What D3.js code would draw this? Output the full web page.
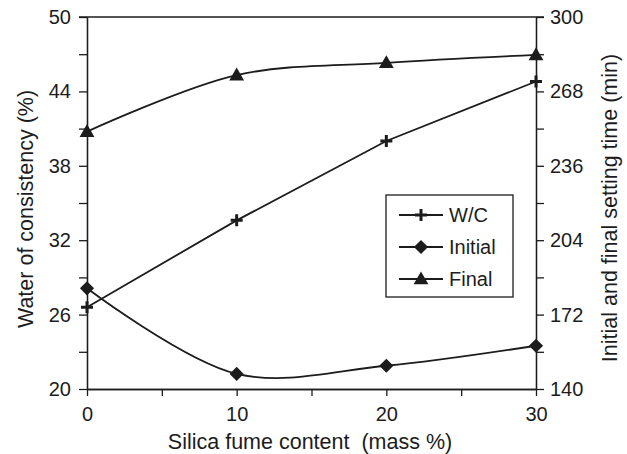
<!DOCTYPE html>
<html>
<head>
<meta charset="utf-8">
<script src="https://cdn.jsdelivr.net/npm/d3@7"></script>
<style>
  html, body { margin: 0; padding: 0; background: #fff; }
  svg { display: block; font-family: "Liberation Sans", Arial, sans-serif; }
</style>
</head>
<body>
<svg id="chart" width="627" height="454"></svg>
<script>
// Silica fume content (mass %)
const silicaFume = [0, 10, 20, 30];
// Water of consistency (%), left axis
const waterConsistency = [26.6, 33.6, 40.0, 44.8];
// Setting times (min), right axis
const initialSetting = [183.3, 146.5, 150.0, 158.6];
const finalSetting = [250.7, 275.0, 280.3, 283.7];

const xTicks = [0, 10, 20, 30];
const xMinorTicks = [5, 15, 25];
const leftTicks = [20, 26, 32, 38, 44, 50];
const leftMinorTicks = [23, 29, 35, 41, 47];
const rightTicks = [140, 172, 204, 236, 268, 300];
const rightMinorTicks = [156, 188, 220, 252, 284];

const ink = "#1c1c1c";
const tickFont = "20px";
const titleFont = "21.5px";
const svg = d3.select("#chart");
const m = { left: 87, right: 536, top: 17, bottom: 389 };

const x = d3.scaleLinear().domain([0, 30]).range([m.left, m.right]);
const yL = d3.scaleLinear().domain([20, 50]).range([m.bottom, m.top]);
const yR = d3.scaleLinear().domain([140, 300]).range([m.bottom, m.top]);

// Axes
function styleAxis(g) {
  g.selectAll("path.domain").attr("stroke", ink).attr("stroke-width", 1.3);
  g.selectAll(".tick line").attr("stroke", ink).attr("stroke-width", 1.3);
  g.selectAll(".tick text").attr("fill", ink).style("font-size", tickFont)
    .style("font-family", "'Liberation Sans', Arial, sans-serif");
}

const xAxis = svg.append("g").attr("transform", `translate(0,${m.bottom})`)
  .call(d3.axisBottom(x).tickValues(xTicks).tickSize(7).tickPadding(10).tickSizeOuter(0));
styleAxis(xAxis);
xAxis.selectAll(".tick text").attr("dy", "0.75em");
svg.append("g").attr("transform", `translate(0,${m.bottom})`)
  .call(d3.axisBottom(x).tickValues(xMinorTicks).tickSize(7).tickFormat("").tickSizeOuter(0))
  .call(styleAxis);

const lAxis = svg.append("g").attr("transform", `translate(${m.left},0)`)
  .call(d3.axisLeft(yL).tickValues(leftTicks).tickSize(8).tickPadding(8).tickSizeOuter(0));
styleAxis(lAxis);
svg.append("g").attr("transform", `translate(${m.left},0)`)
  .call(d3.axisLeft(yL).tickValues(leftMinorTicks).tickSize(8).tickFormat("").tickSizeOuter(0))
  .call(styleAxis);

const rAxis = svg.append("g").attr("transform", `translate(${m.right},0)`)
  .call(d3.axisRight(yR).tickValues(rightTicks).tickSize(8).tickPadding(6).tickSizeOuter(0));
styleAxis(rAxis);
svg.append("g").attr("transform", `translate(${m.right},0)`)
  .call(d3.axisRight(yR).tickValues(rightMinorTicks).tickSize(8).tickFormat("").tickSizeOuter(0))
  .call(styleAxis);

// Top frame line
svg.append("line")
  .attr("x1", x(0) - 8).attr("x2", x(30) + 8)
  .attr("y1", yL(50)).attr("y2", yL(50))
  .attr("stroke", ink).attr("stroke-width", 1.3);

// Axis titles
svg.append("text")
  .attr("x", 310).attr("y", 449)
  .attr("text-anchor", "middle").attr("fill", ink).style("font-size", titleFont)
  .attr("xml:space", "preserve").style("white-space", "pre")
  .text("Silica fume content  (mass %)");
svg.append("text")
  .attr("transform", "translate(33,209) rotate(-90)")
  .attr("text-anchor", "middle").attr("fill", ink).style("font-size", titleFont)
  .text("Water of consistency (%)");
svg.append("text")
  .attr("transform", "translate(617,208) rotate(-90)")
  .attr("text-anchor", "middle").attr("fill", ink).style("font-size", titleFont)
  .text("Initial and final setting time (min)");

// Series
const series = [
  { name: "W/C", values: waterConsistency, y: yL, marker: "plus" },
  { name: "Initial", values: initialSetting, y: yR, marker: "diamond" },
  { name: "Final", values: finalSetting, y: yR, marker: "triangle" }
];

function drawMarker(g, type, cx, cy) {
  if (type === "plus") {
    g.append("path").attr("d", "M-6,0H6M0,-6V6")
      .attr("transform", `translate(${cx},${cy})`)
      .attr("stroke", ink).attr("stroke-width", 3).attr("fill", "none");
  } else if (type === "diamond") {
    g.append("path").attr("d", d3.symbol(d3.symbolSquare, 100)())
      .attr("transform", `translate(${cx},${cy}) rotate(45)`)
      .attr("fill", ink);
  } else {
    g.append("path").attr("d", d3.symbol(d3.symbolTriangle, 95)())
      .attr("transform", `translate(${cx},${cy + 1})`)
      .attr("fill", ink);
  }
}

const plot = svg.append("g");
series.forEach(s => {
  const line = d3.line()
    .x((d, i) => x(silicaFume[i]))
    .y(d => s.y(d))
    .curve(s.marker === "plus" ? d3.curveLinear : d3.curveCatmullRom.alpha(0.5));
  plot.append("path").datum(s.values)
    .attr("d", line).attr("fill", "none")
    .attr("stroke", ink).attr("stroke-width", 1.8);
  s.values.forEach((v, i) => drawMarker(plot, s.marker, x(silicaFume[i]), s.y(v)));
});

// Legend
const lg = svg.append("g").attr("transform", "translate(386,195)");
lg.append("rect").attr("width", 127).attr("height", 102)
  .attr("fill", "#fff").attr("stroke", ink).attr("stroke-width", 1.3);
series.forEach((s, i) => {
  const cy = 20 + i * 32;
  lg.append("line").attr("x1", 13).attr("x2", 57).attr("y1", cy).attr("y2", cy)
    .attr("stroke", ink).attr("stroke-width", 1.8);
  drawMarker(lg, s.marker, 35, cy);
  lg.append("text").attr("x", 63).attr("y", cy).attr("dy", "0.35em")
    .attr("fill", ink).style("font-size", tickFont).text(s.name);
});
</script>
</body>
</html>
